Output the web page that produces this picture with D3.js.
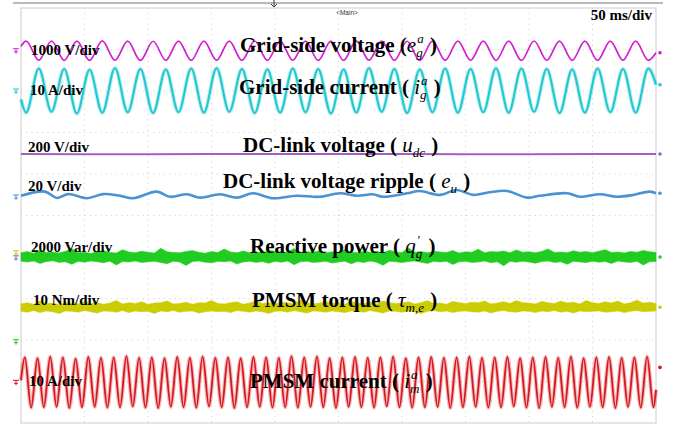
<!DOCTYPE html>
<html>
<head>
<meta charset="utf-8">
<script src="https://cdn.jsdelivr.net/npm/d3@7"></script>
<style>
body{margin:0;background:#fff}
svg text{white-space:pre}
.lbl{font:bold 15px "Times New Roman","Liberation Serif",serif;fill:#000}
.tb{font:bold 21px "Times New Roman","Liberation Serif",serif;fill:#000}
.tm{font:italic 21px "Times New Roman","Liberation Serif",serif;fill:#000}
.ts{font:italic 13px "Times New Roman","Liberation Serif",serif;fill:#000}
</style>
</head>
<body>
<svg id="scope" width="678" height="425"></svg>
<script>
// time of each grid-side extremum (ms), 50 Hz
var gridT = [4,14,24,34,44,54,64,74,84,94,
             104,114,124,134,144,154,164,174,184,194,
             204,214,224,234,244,254,264,274,284,294,
             304,314,324,334,344,354,364,374,384,394,
             404,414,424,434,444,454,464,474,484,494];
// grid voltage e_g^a extremes (V)
var egV = [232,-228,235,-230,230,-232,236,-229,231,-234,
           229,-230,234,-231,232,-228,230,-233,235,-230,
           231,-229,233,-232,230,-231,236,-228,232,-230,
           229,-233,234,-230,231,-229,233,-231,230,-234,
           235,-229,232,-230,231,-232,234,-228,230,-231];
var egEdge = [110,-50];
// grid current i_g^a extremes (A)
var igA = [-5.2,5.4,-5.0,5.3,-5.4,5.1,-5.2,5.5,-5.1,5.3,
           -5.3,5.2,-5.1,5.4,-5.2,5.5,-5.0,5.3,-5.3,5.2,
           -5.2,5.4,-5.1,5.3,-5.4,5.2,-5.2,5.5,-5.0,5.3,
           -5.3,5.2,-5.1,5.4,-5.2,5.3,-5.1,5.5,-5.2,5.4,
           -5.0,5.3,-5.3,5.2,-5.2,5.4,-5.1,5.3,-5.2,5.4];
var igEdge = [-2.0,1.5];
// dc-link voltage u_dc (ms, V)
var udc = [[0,500],[100,499.5],[200,500.5],[300,500],[400,499.5],[500,500.5]];
// dc-link ripple e_u (ms, V)
var eu = [[0,0.6],[18.9,2.6],[28.3,-0.5],[37,1.4],[52,-0.6],[64.6,1.4],[78,0.6],[88.2,-0.6],
          [107,2.6],[117.3,0.1],[130.7,1.3],[141,-0.3],[156.7,1.3],[170,-0.3],[182.7,1.8],
          [198.4,-0.6],[217,0.6],[235.4,0.1],[251,1.8],[264.6,0.6],[277,1.3],[285,0.1],
          [304,1.8],[314,2.9],[330,1.0],[343,3.4],[356,1.0],[369,2.3],[382.7,2.9],[398.4,-0.3],
          [408.7,0.6],[430,1.8],[440,0.1],[456,1.3],[469,0.1],[482,1.0],[495,2.6],[500,1.8]];
// sample times for the noisy traces (ms)
var noiseT = [0,5,10,15,20,25,30,35,40,45,50,55,60,65,70,75,80,85,90,95,
              100,105,110,115,120,125,130,135,140,145,150,155,160,165,170,175,180,185,190,195,
              200,205,210,215,220,225,230,235,240,245,250,255,260,265,270,275,280,285,290,295,
              300,305,310,315,320,325,330,335,340,345,350,355,360,365,370,375,380,385,390,395,
              400,405,410,415,420,425,430,435,440,445,450,455,460,465,470,475,480,485,490,495,500];
// reactive power q_g envelope (Var)
var qHi = [210,260,180,330,220,240,190,280,400,210,
           230,170,260,300,220,190,350,240,210,280,
           230,190,420,250,220,200,270,310,230,180,
           260,220,380,240,200,290,210,250,190,330,
           270,220,240,410,200,260,230,300,190,250,
           220,360,240,210,280,230,260,190,320,250,
           210,440,230,260,200,280,240,220,310,190,
           250,230,370,210,260,240,290,200,340,230,
           250,210,270,390,220,240,200,300,230,260,
           210,280,350,220,240,190,270,230,310,250,220];
var qLo = [-200,-240,-190,-310,-220,-180,-260,-230,-350,-210,
           -250,-190,-230,-280,-200,-380,-220,-240,-190,-270,
           -230,-210,-260,-320,-200,-240,-410,-220,-190,-250,
           -280,-210,-230,-190,-340,-240,-200,-260,-220,-300,
           -210,-250,-190,-370,-230,-200,-260,-240,-210,-290,
           -240,-200,-330,-220,-260,-190,-250,-400,-210,-230,
           -270,-220,-190,-250,-310,-210,-240,-200,-360,-230,
           -210,-260,-240,-190,-280,-230,-420,-210,-250,-200,
           -240,-300,-220,-190,-260,-230,-350,-210,-240,-270,
           -200,-250,-220,-310,-190,-240,-260,-210,-380,-230,-220];
// PMSM torque envelope (Nm)
var tauHi = [-12.3,-12.0,-12.4,-11.6,-12.2,-12.1,-12.5,-11.9,-12.2,-12.3,
             -11.7,-12.2,-12.0,-12.4,-12.1,-11.5,-12.3,-12.0,-12.2,-11.8,
             -12.4,-12.1,-12.0,-11.6,-12.3,-12.2,-11.9,-12.4,-12.0,-12.1,
             -11.5,-12.2,-12.3,-12.0,-11.8,-12.4,-12.1,-11.6,-12.2,-12.0,
             -12.3,-11.9,-12.1,-12.2,-11.4,-12.0,-12.3,-12.1,-11.8,-12.2,
             -12.0,-12.4,-11.7,-12.1,-12.2,-11.9,-12.3,-11.6,-12.0,-12.2,
             -12.1,-11.8,-12.3,-12.0,-11.5,-12.2,-12.1,-12.4,-11.7,-12.0,
             -12.2,-11.9,-12.0,-11.6,-12.3,-12.1,-11.8,-12.2,-11.5,-12.0,
             -12.1,-12.3,-11.7,-12.0,-12.2,-11.6,-12.1,-11.9,-12.3,-11.5,
             -12.0,-12.2,-11.8,-12.1,-11.6,-12.3,-12.0,-11.4,-12.1,-11.9,-12.2];
var tauLo = [-14.1,-14.3,-13.9,-14.4,-14.0,-14.2,-14.6,-14.0,-14.1,-14.3,
             -13.9,-14.2,-14.5,-14.0,-14.1,-14.3,-13.9,-14.4,-14.0,-14.2,
             -14.1,-14.6,-14.0,-14.2,-13.9,-14.3,-14.1,-14.0,-14.5,-14.2,
             -14.0,-14.2,-14.1,-14.4,-13.9,-14.1,-14.3,-14.0,-14.2,-14.6,
             -14.1,-14.0,-14.3,-13.9,-14.2,-14.5,-14.0,-14.1,-14.3,-14.0,
             -14.2,-14.4,-14.0,-14.1,-14.3,-13.9,-14.2,-14.5,-14.0,-14.1,
             -14.3,-14.0,-14.2,-14.6,-14.1,-13.9,-14.2,-14.0,-14.4,-14.1,
             -14.0,-14.2,-14.3,-14.0,-14.5,-14.1,-13.9,-14.2,-14.3,-14.0,
             -14.1,-14.4,-14.0,-14.2,-13.9,-14.3,-14.1,-14.5,-14.0,-14.2,
             -14.1,-14.0,-14.3,-14.2,-14.0,-14.4,-14.1,-13.9,-14.2,-14.1,-14.0];
// PMSM current extremes, 100 Hz
var motorT = [3,8,13,18,23,28,33,38,43,48,53,58,63,68,73,78,83,88,93,98,
              103,108,113,118,123,128,133,138,143,148,153,158,163,168,173,178,183,188,193,198,
              203,208,213,218,223,228,233,238,243,248,253,258,263,268,273,278,283,288,293,298,
              303,308,313,318,323,328,333,338,343,348,353,358,363,368,373,378,383,388,393,398,
              403,408,413,418,423,428,433,438,443,448,453,458,463,468,473,478,483,488,493,498];
var imA = [6.0,-6.1,5.8,-6.0,6.2,-5.9,6.0,-6.2,5.7,-6.0,
           6.1,-5.9,5.9,-6.1,6.0,-6.0,6.3,-5.8,5.9,-6.1,
           6.0,-6.2,5.8,-5.9,6.1,-6.0,5.9,-6.1,6.2,-5.8,
           5.9,-6.0,6.0,-6.2,5.8,-6.0,6.1,-5.9,6.0,-6.1,
           5.9,-6.0,6.3,-6.1,6.0,-5.9,6.2,-6.0,5.8,-6.2,
           6.0,-5.9,6.1,-6.0,5.9,-6.1,6.0,-5.8,6.2,-6.0,
           5.8,-6.1,6.0,-6.0,6.1,-5.9,5.9,-6.2,6.0,-6.0,
           6.2,-5.9,5.9,-6.1,6.0,-6.0,6.1,-5.8,5.8,-6.1,
           6.0,-6.2,6.1,-5.9,5.9,-6.0,6.2,-6.1,5.8,-5.9,
           6.0,-6.0,6.1,-6.2,5.9,-5.9,6.0,-6.1,6.2,-6.0];
var imEdge = [0.5,-1.8];

var scaleLabels = ["1000 V/div","10 A/div","200 V/div","20 V/div","2000 Var/div","10 Nm/div","10 A/div"];

var svg = d3.select("#scope");
var X0 = 21, X1 = 656, Y0 = 8, Y1 = 423;
var x = d3.scaleLinear().domain([0,500]).range([X0,X1]);
var y = d3.scaleLinear().domain([-5,5]).range([Y1,Y0]);

// channel settings: volts per div, ground position (div), colour
function chY(perDiv, off){ return function(v){ return y(v/perDiv + off); }; }
var yEg  = chY(1000, 3.97),
    yIg  = chY(10, 3.0),
    yUdc = chY(200, -1.02),
    yEu  = chY(20, 0.446),
    yQ   = chY(2000, -1.0),
    yTau = chY(10, -0.9),
    yIm  = chY(10, -4.02);

// top bar + trigger arrow
svg.append("line").attr("x1",13).attr("x2",663).attr("y1",3).attr("y2",3)
   .attr("stroke","#777").attr("stroke-width",1.2);
svg.append("path").attr("d","M274,0V7M271,4L274,7L277,4")
   .attr("fill","none").attr("stroke","#333").attr("stroke-width",1);
svg.append("text").attr("x",347).attr("y",15).attr("text-anchor","middle")
   .style("font","6.5px 'Liberation Sans',sans-serif").attr("fill","#333").text("<Main>");

// grid
var grid = svg.append("g").attr("stroke","#cfcfcf").attr("stroke-width",1).attr("stroke-dasharray","1,4.3");
grid.selectAll("line.v").data(d3.range(50,500,50)).enter().append("line")
    .attr("x1",d=>x(d)).attr("x2",d=>x(d)).attr("y1",Y0).attr("y2",Y1);
grid.selectAll("line.h").data(d3.range(-4,5,1)).enter().append("line")
    .attr("y1",d=>y(d)).attr("y2",d=>y(d)).attr("x1",X0).attr("x2",X1);
svg.append("rect").attr("x",X0).attr("y",Y0).attr("width",X1-X0).attr("height",Y1-Y0)
   .attr("fill","none").attr("stroke","#cccccc").attr("stroke-width",1);

function wave(pts, yf, color, w, halo){
  var line = d3.line().x(d=>x(d[0])).y(d=>yf(d[1])).curve(d3.curveMonotoneX);
  if (halo) svg.append("path").attr("d",line(pts)).attr("fill","none")
     .attr("stroke",color).attr("stroke-width",w+2.2).attr("stroke-opacity",0.3);
  svg.append("path").attr("d",line(pts)).attr("fill","none")
     .attr("stroke",color).attr("stroke-width",w).attr("stroke-linejoin","round");
}
function band(hi, lo, yf, color){
  var pts = d3.zip(noiseT, hi, lo);
  var area = d3.area().x(d=>x(d[0])).y0(d=>yf(d[2])).y1(d=>yf(d[1]));
  svg.append("path").attr("d",area(pts)).attr("fill",color)
     .attr("stroke",color).attr("stroke-width",0.8).attr("stroke-opacity",0.7);
}

var egPts = [[0,egEdge[0]]].concat(d3.zip(gridT,egV),[[500,egEdge[1]]]);
var igPts = [[0,igEdge[0]]].concat(d3.zip(gridT,igA),[[500,igEdge[1]]]);
var imPts = [[0,imEdge[0]]].concat(d3.zip(motorT,imA),[[500,imEdge[1]]]);

wave(egPts, yEg, "#d21ed2", 1.7, false);
wave(igPts, yIg, "#1ec8cf", 2.0, true);
wave(udc, yUdc, "#9e60c4", 2.0, false);
svg.append("path").attr("fill","none").attr("stroke","#4a92d2").attr("stroke-width",2.6)
   .attr("d", d3.line().x(d=>x(d[0])).y(d=>yEu(d[1])).curve(d3.curveCatmullRom)(eu));
band(qHi, qLo, yQ, "#1fcc1f");
band(tauHi, tauLo, yTau, "#cccc05");
wave(imPts, yIm, "#d8161e", 1.8, true);

// ground markers at the left
var grounds = [[yEg(0),"#d21ed2"],[yIg(0),"#1ec8cf"],[yEu(0),"#4a92d2"],[yTau(0),"#cccc05"],
               [yUdc(0),"#9e60c4"],[y(-3.04),"#1fcc1f"],[yIm(0),"#d8161e"]];
grounds.forEach(function(g){
  svg.append("path").attr("d","M13,"+(g[0]-2)+"h6M16,"+(g[0]-2)+"v5M14,"+(g[0]+1)+"h4")
     .attr("fill","none").attr("stroke",g[1]).attr("stroke-width",1);
});
// level dots at the right
[[egPts,yEg,"#d21ed2"],[igPts,yIg,"#1ec8cf"],[udc,yUdc,"#9e60c4"],[eu,yEu,"#4a92d2"],
 [[[500,0]],yQ,"#1fcc1f"],[[[500,-13.1]],yTau,"#cccc05"],[[[500,3.6]],yIm,"#d8161e"]]
.forEach(function(m){
  var last = m[0][m[0].length-1];
  svg.append("circle").attr("cx",660).attr("cy",m[1](last[1])).attr("r",1.8).attr("fill",m[2]);
});

// scale labels
var lblPos = [[31,55],[30,95],[28,152],[28,191],[31,252],[33,305],[29,386]];
scaleLabels.forEach(function(s,i){
  svg.append("text").attr("class","lbl").attr("x",lblPos[i][0]).attr("y",lblPos[i][1]).text(s);
});
svg.append("text").attr("class","lbl").attr("x",652).attr("y",20).attr("text-anchor","end").text("50 ms/div");

// titles with math parts
var titles = [
  [240,52,[["Grid-side voltage (","tb"],["e","tm",{sub:"g",sup:"a"}],[" )","tb"]]],
  [239,94,[["Grid-side current ( ","tb"],["i","tm",{sub:"g",sup:"a"}],[" )","tb"]]],
  [243,152,[["DC-link voltage ( ","tb"],["u","tm",{sub:"dc"}],[" )","tb"]]],
  [223,188,[["DC-link voltage ripple ( ","tb"],["e","tm",{sub:"u"}],[" )","tb"]]],
  [250,253,[["Reactive power ( ","tb"],["q","tm",{sub:"g",sup:"'"}],[" )","tb"]]],
  [252,307,[["PMSM torque ( ","tb"],["\u03c4","tm",{sub:"m,e"}],[" )","tb"]]],
  [250,388,[["PMSM current ( ","tb"],["i","tm",{sub:"m",sup:"a"}],[" )","tb"]]]
];
titles.forEach(function(t){
  var cx = t[0], by = t[1];
  t[2].forEach(function(p){
    var el = svg.append("text").attr("class",p[1]).attr("x",cx).attr("y",by).text(p[0]);
    cx += el.node().getComputedTextLength();
    if (p[2]) {
      var w = 0;
      if (p[2].sub) {
        var s = svg.append("text").attr("class","ts").attr("x",cx).attr("y",by+5).text(p[2].sub);
        w = Math.max(w, s.node().getComputedTextLength());
      }
      if (p[2].sup) {
        var u = svg.append("text").attr("class","ts").attr("x",cx+1).attr("y",by-9).text(p[2].sup);
        w = Math.max(w, u.node().getComputedTextLength()+1);
      }
      cx += w + 1;
    }
  });
});
</script>
</body>
</html>
